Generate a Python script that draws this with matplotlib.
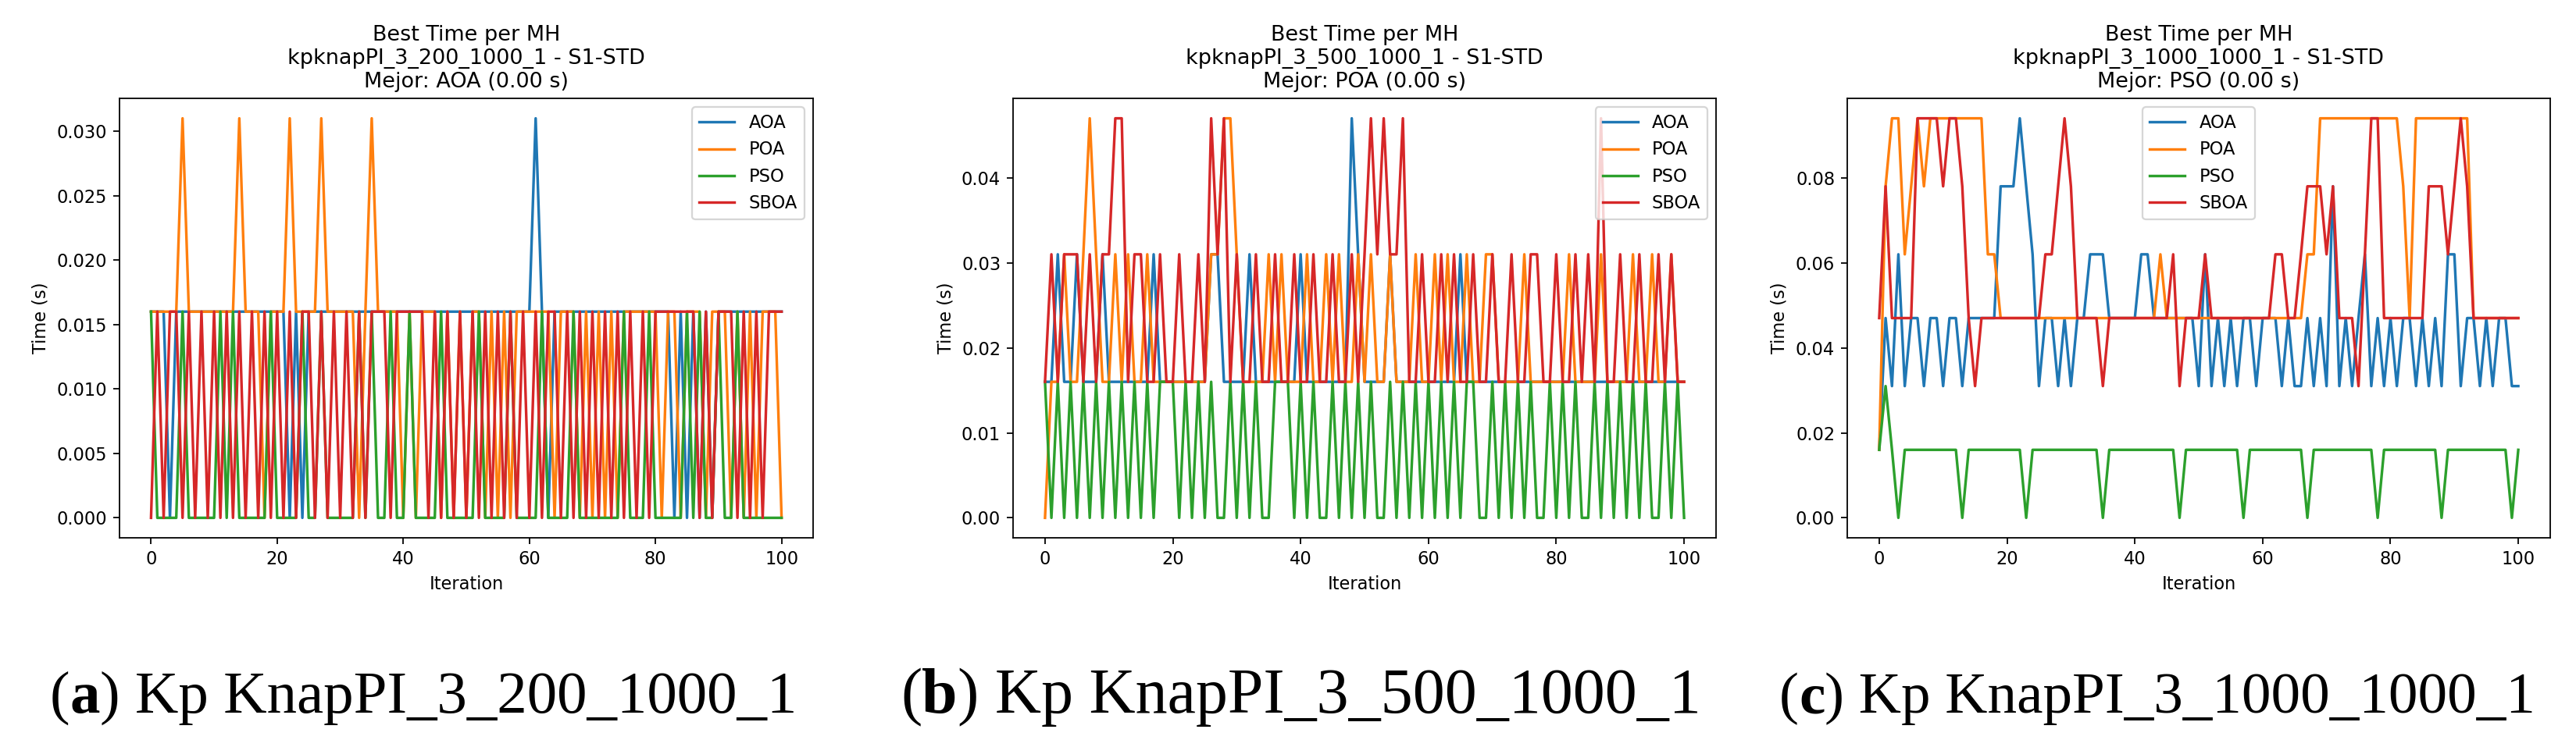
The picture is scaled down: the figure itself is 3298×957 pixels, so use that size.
import matplotlib
matplotlib.use("Agg")
import matplotlib.pyplot as plt
import numpy as np
from matplotlib.text import Annotation

# times are multiples of the ~15.6 ms timer tick, stored as tick counts
levels = [0.0, 0.016, 0.031, 0.047, 0.062, 0.078, 0.094]
iterations = list(range(101))
algos = ["AOA", "POA", "PSO", "SBOA"]

# (a) kpknapPI_3_200_1000_1
a_aoa = [1, 1, 1, 0, 1, 1, 1, 1, 1, 1,
         1, 1, 1, 1, 1, 1, 1, 1, 1, 1,
         1, 1, 0, 1, 0, 1, 1, 1, 1, 1,
         1, 1, 1, 1, 1, 1, 1, 1, 1, 1,
         1, 1, 1, 1, 1, 1, 1, 1, 1, 1,
         1, 1, 1, 1, 1, 1, 1, 1, 1, 1,
         1, 2, 1, 0, 1, 1, 1, 1, 1, 1,
         1, 1, 1, 1, 1, 1, 1, 1, 1, 1,
         1, 1, 1, 0, 1, 0, 1, 0, 1, 0,
         1, 1, 1, 1, 1, 1, 1, 1, 1, 1,
         1]
a_poa = [1, 1, 1, 1, 1, 2, 1, 1, 1, 1,
         1, 1, 1, 1, 2, 1, 1, 1, 0, 1,
         1, 1, 2, 1, 1, 1, 1, 2, 1, 1,
         1, 1, 1, 0, 1, 2, 1, 1, 1, 1,
         0, 1, 0, 1, 1, 1, 0, 1, 0, 1,
         0, 1, 1, 0, 1, 0, 1, 0, 1, 1,
         1, 1, 1, 1, 0, 1, 1, 1, 0, 1,
         0, 1, 0, 1, 0, 1, 1, 1, 1, 1,
         1, 0, 1, 1, 0, 1, 1, 1, 0, 1,
         1, 1, 0, 1, 0, 1, 0, 1, 1, 1,
         0]
a_pso = [1, 0, 0, 0, 0, 1, 0, 0, 0, 0,
         0, 1, 0, 1, 0, 0, 0, 0, 0, 1,
         0, 0, 0, 0, 1, 0, 0, 1, 0, 0,
         0, 0, 0, 1, 0, 1, 0, 0, 1, 0,
         0, 1, 0, 0, 0, 0, 1, 0, 0, 0,
         0, 0, 1, 0, 0, 0, 0, 1, 0, 0,
         0, 0, 1, 0, 0, 0, 0, 1, 0, 0,
         0, 0, 0, 0, 0, 1, 0, 0, 0, 1,
         0, 0, 0, 0, 0, 1, 0, 1, 0, 0,
         1, 0, 0, 1, 0, 0, 0, 0, 0, 0,
         0]
a_sboa = [0, 1, 0, 1, 1, 0, 1, 0, 1, 0,
          1, 0, 1, 0, 1, 0, 1, 0, 1, 0,
          1, 0, 1, 0, 1, 1, 0, 1, 0, 1,
          0, 1, 0, 1, 0, 1, 1, 1, 0, 1,
          1, 1, 1, 1, 0, 1, 0, 1, 0, 1,
          0, 1, 0, 1, 0, 1, 0, 1, 0, 1,
          0, 1, 0, 1, 1, 0, 1, 0, 1, 0,
          1, 0, 1, 0, 1, 0, 1, 0, 1, 0,
          1, 1, 1, 1, 1, 1, 1, 0, 1, 0,
          1, 1, 1, 0, 1, 0, 1, 0, 1, 1,
          1]

# (b) kpknapPI_3_500_1000_1
b_aoa = [1, 1, 2, 1, 1, 2, 1, 1, 1, 2,
         1, 1, 1, 1, 1, 1, 1, 2, 1, 1,
         1, 1, 1, 1, 1, 1, 2, 2, 1, 1,
         1, 1, 2, 1, 1, 1, 1, 1, 1, 1,
         2, 1, 1, 1, 1, 1, 1, 1, 3, 2,
         1, 1, 1, 1, 2, 1, 1, 1, 1, 1,
         1, 1, 1, 1, 1, 2, 1, 1, 1, 1,
         1, 1, 1, 1, 1, 1, 1, 1, 1, 1,
         1, 1, 1, 1, 1, 1, 1, 1, 1, 1,
         1, 1, 1, 1, 1, 1, 1, 1, 1, 1,
         1]
b_poa = [0, 1, 1, 2, 1, 1, 2, 3, 2, 1,
         1, 2, 1, 2, 1, 1, 2, 1, 1, 1,
         1, 1, 1, 1, 1, 1, 2, 2, 3, 3,
         2, 1, 1, 1, 1, 2, 1, 2, 1, 1,
         1, 2, 1, 1, 2, 1, 2, 1, 1, 2,
         1, 2, 1, 1, 2, 1, 1, 1, 2, 1,
         1, 2, 1, 2, 1, 1, 2, 1, 1, 2,
         2, 1, 1, 1, 1, 2, 1, 1, 1, 1,
         1, 1, 2, 1, 1, 1, 1, 2, 1, 1,
         1, 1, 2, 1, 1, 2, 1, 1, 2, 1,
         1]
b_pso = [1, 0, 1, 0, 1, 0, 1, 0, 1, 0,
         1, 0, 1, 0, 1, 0, 1, 0, 1, 1,
         1, 0, 1, 0, 1, 0, 1, 0, 0, 1,
         0, 1, 0, 1, 0, 0, 1, 1, 1, 0,
         1, 0, 1, 0, 0, 1, 0, 1, 0, 1,
         0, 1, 0, 0, 1, 0, 1, 0, 1, 0,
         1, 0, 1, 0, 1, 0, 1, 1, 0, 0,
         1, 0, 1, 0, 1, 0, 1, 0, 0, 1,
         0, 1, 0, 1, 0, 0, 1, 0, 1, 0,
         1, 0, 1, 0, 1, 0, 0, 1, 0, 1,
         0]
b_sboa = [1, 2, 1, 2, 2, 2, 1, 2, 1, 2,
          2, 3, 3, 1, 2, 2, 1, 1, 2, 1,
          1, 2, 1, 1, 2, 1, 3, 2, 3, 1,
          2, 1, 1, 2, 1, 1, 2, 1, 1, 2,
          1, 1, 2, 1, 1, 2, 1, 1, 2, 1,
          2, 3, 2, 3, 2, 2, 3, 1, 1, 2,
          1, 1, 2, 1, 2, 1, 1, 2, 1, 1,
          2, 1, 1, 2, 1, 1, 2, 2, 1, 1,
          2, 1, 1, 2, 1, 2, 1, 3, 1, 1,
          2, 1, 1, 2, 1, 1, 2, 1, 2, 1,
          1]

# (c) kpknapPI_3_1000_1000_1
c_aoa = [1, 3, 2, 4, 2, 3, 3, 2, 3, 3,
         2, 3, 3, 2, 3, 3, 3, 3, 3, 5,
         5, 5, 6, 5, 4, 2, 3, 3, 2, 3,
         2, 3, 3, 4, 4, 4, 3, 3, 3, 3,
         3, 4, 4, 3, 3, 3, 3, 3, 3, 3,
         2, 4, 2, 3, 2, 3, 2, 3, 3, 2,
         3, 3, 3, 2, 3, 2, 2, 3, 2, 3,
         2, 5, 2, 3, 2, 3, 4, 2, 3, 2,
         3, 2, 3, 3, 2, 3, 2, 3, 2, 4,
         4, 2, 3, 3, 2, 3, 2, 3, 3, 2,
         2]
c_poa = [1, 5, 6, 6, 4, 5, 6, 5, 6, 6,
         6, 6, 6, 6, 6, 6, 6, 4, 4, 3,
         3, 3, 3, 3, 3, 3, 3, 3, 3, 3,
         3, 3, 3, 3, 3, 3, 3, 3, 3, 3,
         3, 3, 3, 3, 4, 3, 3, 3, 3, 3,
         3, 3, 3, 3, 3, 3, 3, 3, 3, 3,
         3, 3, 3, 3, 3, 3, 3, 4, 4, 6,
         6, 6, 6, 6, 6, 6, 6, 6, 6, 6,
         6, 6, 5, 3, 6, 6, 6, 6, 6, 6,
         6, 6, 6, 3, 3, 3, 3, 3, 3, 3,
         3]
c_pso = [1, 2, 1, 0, 1, 1, 1, 1, 1, 1,
         1, 1, 1, 0, 1, 1, 1, 1, 1, 1,
         1, 1, 1, 0, 1, 1, 1, 1, 1, 1,
         1, 1, 1, 1, 1, 0, 1, 1, 1, 1,
         1, 1, 1, 1, 1, 1, 1, 0, 1, 1,
         1, 1, 1, 1, 1, 1, 1, 0, 1, 1,
         1, 1, 1, 1, 1, 1, 1, 0, 1, 1,
         1, 1, 1, 1, 1, 1, 1, 1, 0, 1,
         1, 1, 1, 1, 1, 1, 1, 1, 0, 1,
         1, 1, 1, 1, 1, 1, 1, 1, 1, 0,
         1]
c_sboa = [3, 5, 3, 3, 3, 3, 6, 6, 6, 6,
          5, 6, 6, 5, 3, 2, 3, 3, 3, 3,
          3, 3, 3, 3, 3, 3, 4, 4, 5, 6,
          5, 3, 3, 3, 3, 2, 3, 3, 3, 3,
          3, 3, 3, 3, 3, 3, 4, 2, 3, 3,
          3, 4, 3, 3, 3, 3, 3, 3, 3, 3,
          3, 3, 4, 4, 3, 3, 4, 5, 5, 5,
          4, 5, 3, 3, 3, 2, 4, 6, 6, 3,
          3, 3, 3, 3, 3, 3, 5, 5, 5, 4,
          5, 6, 5, 3, 3, 3, 3, 3, 3, 3,
          3]

instances = ["kpknapPI_3_200_1000_1", "kpknapPI_3_500_1000_1", "kpknapPI_3_1000_1000_1"]
best = ["AOA", "POA", "PSO"]
captions = ["KnapPI_3_200_1000_1", "KnapPI_3_500_1000_1", "KnapPI_3_1000_1000_1"]
letters = ["a", "b", "c"]
panels = [[a_aoa, a_poa, a_pso, a_sboa],
          [b_aoa, b_poa, b_pso, b_sboa],
          [c_aoa, c_poa, c_pso, c_sboa]]

W, H = 3299, 957
fig = plt.figure(figsize=(W / 162, H / 162), dpi=162)

boxes = [(153, 1041), (1297, 2197), (2365, 3265)]
top_px, bottom_px = 126, 689
legend_loc = [dict(loc="upper right"), dict(loc="upper right"),
              dict(loc="upper left", bbox_to_anchor=(0.408, 1.0))]
caption_x = [64, 1153, 2278]
caption_size = [34.2, 36.4, 33.4]

lv = np.array(levels)
for k in range(3):
    l, r = boxes[k]
    ax = fig.add_axes([l / W, 1 - bottom_px / H, (r - l) / W, (bottom_px - top_px) / H])
    for name, ticks in zip(algos, panels[k]):
        ax.plot(iterations, lv[ticks], label=name)
    ax.set_title("Best Time per MH\n%s - S1-STD\nMejor: %s (0.00 s)" % (instances[k], best[k]))
    ax.set_xlabel("Iteration")
    ax.set_ylabel("Time (s)")
    ax.legend(**legend_loc[k])

    # caption: "(x) Kp ..." with bold letter
    cap_kw = dict(fontsize=caption_size[k], family="Liberation Serif")
    t1 = fig.text(caption_x[k] / W, 1 - 913 / H, "(", va="baseline", ha="left", **cap_kw)
    t2 = Annotation(letters[k], xy=(1, 0), xycoords=t1, va="bottom", ha="left",
                    fontweight="bold", **cap_kw)
    fig.add_artist(t2)
    t3 = Annotation(") Kp " + captions[k], xy=(1, 0), xycoords=t2, va="bottom", ha="left",
                    **cap_kw)
    fig.add_artist(t3)

fig.savefig("out.png", dpi=162)
